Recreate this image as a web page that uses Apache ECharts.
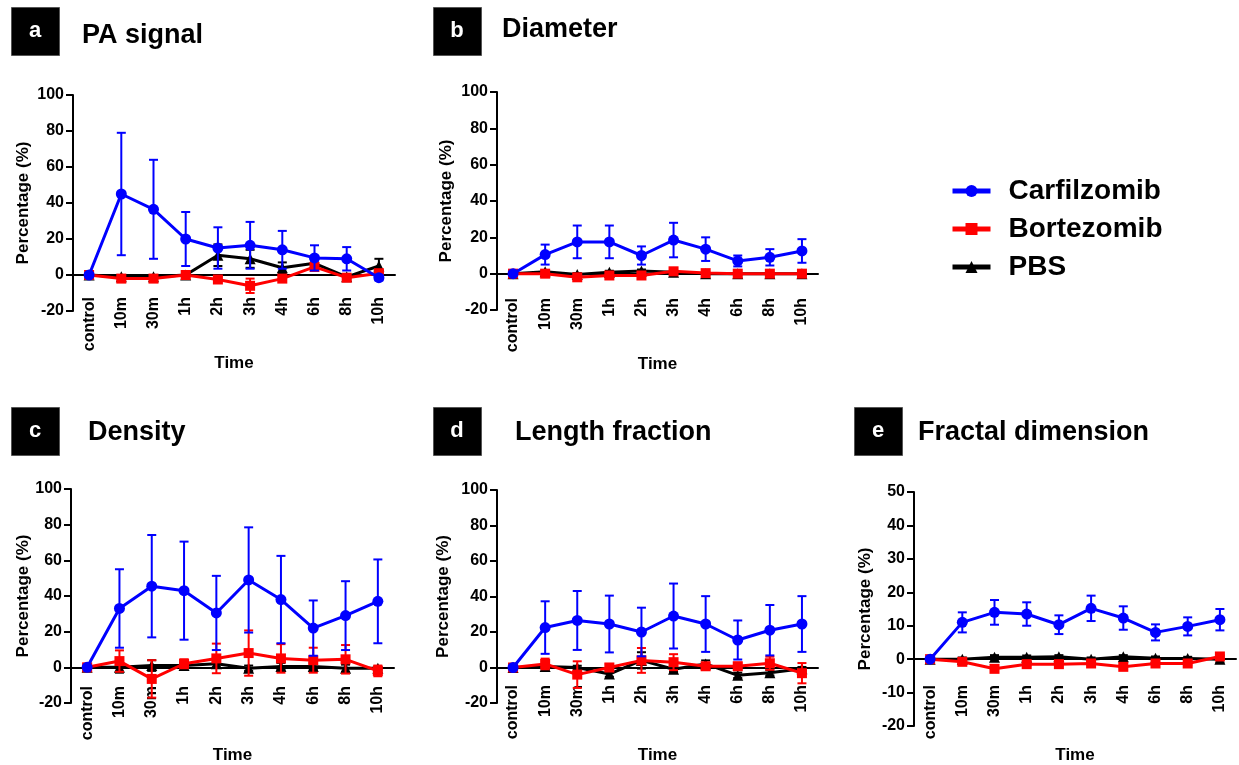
<!DOCTYPE html>
<html>
<head>
<meta charset="utf-8">
<script src="https://cdn.jsdelivr.net/npm/echarts@6/dist/echarts.min.js"></script>
<style>
html,body{margin:0;padding:0;background:#fff;}
#c{width:1239px;height:765px;}
</style>
</head>
<body>
<div id="c"></div>
<script>
// ---------- data ----------
const categories = ['control','10m','30m','1h','2h','3h','4h','6h','8h','10h'];
const seriesNames = ['Carfilzomib','Bortezomib','PBS'];

// a: PA signal
const paCar   = [0, 45, 36.5, 20, 15, 16.5, 14, 9.5, 9, -1.5];
const paCarSD = [0, 34, 27.5, 15, 11.5, 13, 10.5, 7, 6.5, 1.5];
const paBor   = [0, -2, -2, 0, -2.5, -6, -2, 4.5, -1.5, 1];
const paBorSD = [0, 1.5, 1.5, 1, 1, 4, 1.5, 2, 1, 1];
const paPbs   = [0, -1, -1, 0, 11, 9, 4, 6.5, -1, 5];
const paPbsSD = [0, 1, 1, 1, 6, 5, 3, 1.5, 1, 4];

// b: Diameter
const diCar   = [0, 10.5, 17.5, 17.5, 10, 18.5, 13.5, 7, 9, 12.5];
const diCarSD = [0, 5.5, 9, 9, 5, 9.5, 6.5, 3, 4.5, 6.5];
const diBor   = [0, 0, -2, -1, -1, 1.3, 0.3, 0, 0, 0];
const diBorSD = [0, 1, 1, 1, 1, 1, 0.8, 0.5, 0.5, 0.5];
const diPbs   = [0, 1, -0.5, 0.8, 1.5, 0.8, 0, 0, 0, 0];
const diPbsSD = [0, 0.8, 0.8, 0.8, 0.8, 0.8, 0.5, 0.5, 0.5, 0.5];

// c: Density
const deCar   = [0, 33, 45.5, 43, 30.5, 49, 38, 22, 29, 37];
const deCarSD = [0, 22, 28.7, 27.5, 20.8, 29.5, 24.5, 15.5, 19.3, 23.5];
const deBor   = [0, 3.5, -6.5, 2, 5, 8, 5, 4, 4.5, -2];
const deBorSD = [0, 6, 10.5, 2.5, 8.3, 12.7, 8, 7, 8, 3];
const dePbs   = [0, 0, 1, 1, 2, -0.5, 0.5, 0.5, -0.5, -0.5];
const dePbsSD = [0, 3, 3, 1.5, 2, 1.5, 2, 2, 2, 1];

// d: Length fraction
const lfCar   = [0, 22.5, 26.5, 24.5, 20, 29, 24.5, 15.5, 21, 24.5];
const lfCarSD = [0, 14.8, 16.6, 16, 13.7, 18.3, 15.7, 11, 14.2, 15.7];
const lfBor   = [0, 2, -4, 0, 4, 3, 0.7, 0.7, 2.4, -3.2];
const lfBorSD = [0, 3, 7.5, 2, 7, 4.5, 1.5, 2, 3.7, 5.7];
const lfPbs   = [0, 0.5, 0, -3.7, 4, -1, 2, -4.4, -3, -0.7];
const lfPbsSD = [0, 1.5, 1, 1.5, 4.6, 1.5, 2, 1.5, 1.5, 1];

// e: Fractal dimension
const fdCar   = [0, 11, 14, 13.5, 10.3, 15.2, 12.3, 8, 9.8, 11.8];
const fdCarSD = [0, 3, 3.7, 3.5, 2.8, 3.8, 3.5, 2.4, 2.7, 3.2];
const fdBor   = [0, -0.8, -2.9, -1.5, -1.5, -1.3, -2.3, -1.3, -1.3, 0.8];
const fdBorSD = [0, 0.5, 0.8, 0.5, 0.5, 0.5, 0.5, 0.5, 0.5, 0.5];
const fdPbs   = [0, 0, 0.6, 0.6, 0.7, 0, 0.7, 0.3, 0.2, 0];
const fdPbsSD = [0, 0.5, 0.6, 0.5, 0.5, 0.5, 0.5, 0.5, 0.5, 1];

const panelLetters = ['a','b','c','d','e'];
const panelTitles = ['PA signal','Diameter','Density','Length fraction','Fractal dimension'];
const yMin = [-20,-20,-20,-20,-20];
const yMax = [100,100,100,100,50];
const yInterval = [20,20,20,20,10];

// ---------- layout / style ----------
const FONT = '"Liberation Sans", Arial, Helvetica, sans-serif';
const colors = {Carfilzomib:'#0000ff', Bortezomib:'#ff0000', PBS:'#000000'};
const symbols = {Carfilzomib:'circle', Bortezomib:'rect', PBS:'triangle'};
const grids = [
  {left:73,  top:95,  width:322, height:216},
  {left:497, top:92,  width:321, height:218},
  {left:71,  top:489, width:323, height:217},
  {left:497, top:490, width:321, height:217},
  {left:914, top:492, width:322, height:237}
];
const labelMargin = [-14, -12, -17, -18, -41];
const timeGap = [44, 44, 44, 44, 21];
const yNameGap = [41, 42, 38, 45, 40];
const titleBoxes = [
  {x:11, y:7, tx:82, ty:36},
  {x:433, y:7, tx:502, ty:30},
  {x:11, y:407, tx:88, ty:433},
  {x:433, y:407, tx:515, ty:433},
  {x:854, y:407, tx:918, ty:433}
];

const panels = [
  {Carfilzomib:[paCar,paCarSD], Bortezomib:[paBor,paBorSD], PBS:[paPbs,paPbsSD]},
  {Carfilzomib:[diCar,diCarSD], Bortezomib:[diBor,diBorSD], PBS:[diPbs,diPbsSD]},
  {Carfilzomib:[deCar,deCarSD], Bortezomib:[deBor,deBorSD], PBS:[dePbs,dePbsSD]},
  {Carfilzomib:[lfCar,lfCarSD], Bortezomib:[lfBor,lfBorSD], PBS:[lfPbs,lfPbsSD]},
  {Carfilzomib:[fdCar,fdCarSD], Bortezomib:[fdBor,fdBorSD], PBS:[fdPbs,fdPbsSD]}
];

function errorRender(color){
  return function(params, api){
    const x = api.value(0), m = api.value(1), s = api.value(2);
    const top = api.coord([x, m + s]);
    const bot = api.coord([x, m - s]);
    const hw = 4.5;
    const st = {stroke: color, lineWidth: 2};
    return {type:'group', children:[
      {type:'line', shape:{x1:top[0], y1:top[1], x2:bot[0], y2:bot[1]}, style:st},
      {type:'line', shape:{x1:top[0]-hw, y1:top[1], x2:top[0]+hw, y2:top[1]}, style:st},
      {type:'line', shape:{x1:bot[0]-hw, y1:bot[1], x2:bot[0]+hw, y2:bot[1]}, style:st}
    ]};
  };
}

const xAxes = [], yAxes = [], series = [], graphics = [];
grids.forEach(function(g, i){
  xAxes.push({
    type:'category', gridIndex:i, data:categories,
    name:'Time', nameLocation:'middle', nameGap:timeGap[i],
    nameTextStyle:{fontFamily:FONT, fontWeight:'bold', fontSize:17, color:'#000'},
    axisLine:{onZero:true, lineStyle:{color:'#000', width:2}},
    axisTick:{show:false},
    axisLabel:{rotate:90, margin:labelMargin[i], interval:0, fontFamily:FONT, fontWeight:'bold', fontSize:16, color:'#000'},
    splitLine:{show:false}
  });
  yAxes.push({
    type:'value', gridIndex:i, min:yMin[i], max:yMax[i], interval:yInterval[i],
    name:'Percentage (%)', nameLocation:'middle', nameGap:yNameGap[i], nameRotate:90,
    nameTextStyle:{fontFamily:FONT, fontWeight:'bold', fontSize:17, color:'#000'},
    axisLine:{show:true, onZero:false, lineStyle:{color:'#000', width:2}},
    axisTick:{show:true, length:7, lineStyle:{color:'#000', width:2}},
    axisLabel:{margin:9, fontFamily:FONT, fontWeight:'bold', fontSize:16, color:'#000'},
    splitLine:{show:false}
  });
  ['PBS','Bortezomib','Carfilzomib'].forEach(function(name, k){
    const mean = panels[i][name][0], sd = panels[i][name][1];
    const c = colors[name];
    series.push({
      type:'custom', name:name + ' SD', xAxisIndex:i, yAxisIndex:i,
      renderItem: errorRender(c),
      data: mean.map(function(v, j){ return [j, v, sd[j]]; }),
      encode:{x:0, y:[1]}, z: 2 + k*2, silent:true
    });
    series.push({
      type:'line', name:name, xAxisIndex:i, yAxisIndex:i,
      data: mean, symbol:symbols[name], symbolSize: name==='Bortezomib' ? 10 : 11,
      showSymbol:true, color:c,
      lineStyle:{color:c, width:3}, itemStyle:{color:c},
      z: 3 + k*2, animation:false
    });
  });
  const tb = titleBoxes[i];
  graphics.push({type:'rect', left:tb.x, top:tb.y, shape:{width:48, height:48}, style:{fill:'#000', stroke:'#555', lineWidth:1}});
  graphics.push({type:'text', x:tb.x+24, y:tb.y+24, style:{text:panelLetters[i], fill:'#fff', font:'bold 22px ' + FONT, textAlign:'center', textVerticalAlign:'middle'}});
  graphics.push({type:'text', x:tb.tx, y:tb.ty, style:{text:panelTitles[i], fill:'#000', font:'bold 27px ' + FONT, textAlign:'left', textVerticalAlign:'middle'}});
});

const chart = echarts.init(document.getElementById('c'), null, {renderer:'canvas'});
chart.setOption({
  animation:false,
  backgroundColor:'#fff',
  grid: grids,
  xAxis: xAxes,
  yAxis: yAxes,
  series: series,
  legend:{
    data: seriesNames, orient:'vertical', left:945, top:172,
    itemWidth:38, itemHeight:15, itemGap:10,
    lineStyle:{width:5},
    textStyle:{fontFamily:FONT, fontWeight:'bold', fontSize:28, color:'#000', padding:[0,0,0,13]},
    selectedMode:false
  },
  graphic: graphics
});
</script>
</body>
</html>
